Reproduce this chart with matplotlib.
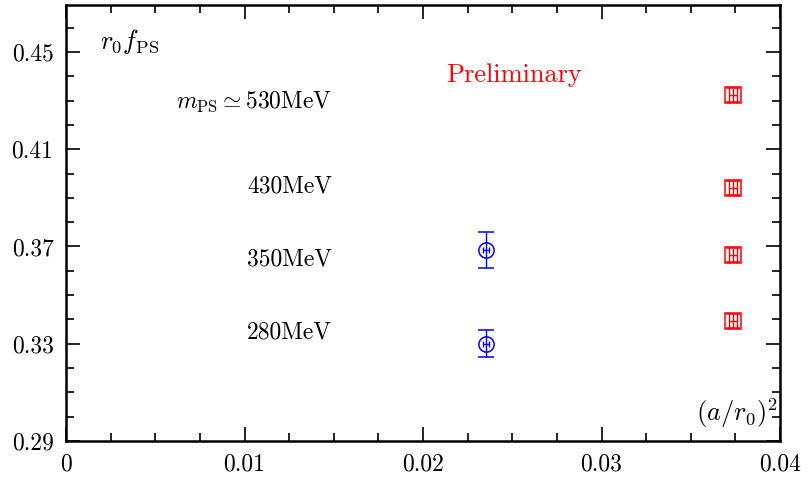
import matplotlib
matplotlib.use("Agg")
import matplotlib.pyplot as plt
from matplotlib.ticker import MultipleLocator, FixedLocator

plt.rcParams["font.family"] = "cmr10"
plt.rcParams["mathtext.fontset"] = "cm"
plt.rcParams["axes.formatter.use_mathtext"] = True

# data
blue_x = [0.02353, 0.02353]
blue_y = [0.3686, 0.3300]
blue_yerr = [0.0074, 0.0055]
blue_xerr = [0.00018, 0.00018]

red_x = [0.03737, 0.03737, 0.03737, 0.03737]
red_y = [0.4323, 0.3941, 0.3665, 0.3394]
red_yerr = [0.0028, 0.0028, 0.0028, 0.0028]
red_xerr = [0.00023, 0.00023, 0.00023, 0.00023]

mass_labels = [r"$m_{\rm PS}\simeq$530MeV", "430MeV", "350MeV", "280MeV"]
mass_label_y = [0.4294, 0.3945, 0.3645, 0.3345]

x_ticks = [0, 0.01, 0.02, 0.03, 0.04]
x_tick_labels = ["0", "0.01", "0.02", "0.03", "0.04"]
y_ticks = [0.29, 0.33, 0.37, 0.41, 0.45]
y_tick_labels = ["0.29", "0.33", "0.37", "0.41", "0.45"]

fig = plt.figure(figsize=(8.1, 4.84), dpi=100)
ax = fig.add_axes([0.0815, 0.0888, 0.8815, 0.9009])

ax.errorbar(blue_x, blue_y, yerr=blue_yerr, fmt="o", color="blue",
            mfc="none", mec="blue", ms=11, mew=1.1, elinewidth=1.0,
            capsize=6, capthick=1.1)
ax.errorbar(blue_x, blue_y, xerr=blue_xerr, fmt="none", ecolor="blue",
            elinewidth=1.0, capsize=2, capthick=1.0)

ax.errorbar(red_x, red_y, yerr=red_yerr, fmt="s", color="red",
            mfc="none", mec="red", ms=11, mew=1.1, elinewidth=1.0,
            capsize=5, capthick=1.0)
ax.errorbar(red_x, red_y, xerr=red_xerr, fmt="none", ecolor="red",
            elinewidth=1.0, capsize=5.5, capthick=1.0)

ax.set_xlim(0, 0.04)
ax.set_ylim(0.29, 0.4693)

ax.xaxis.set_major_locator(FixedLocator(x_ticks))
ax.set_xticklabels(x_tick_labels)
ax.xaxis.set_minor_locator(MultipleLocator(0.0025))
ax.yaxis.set_major_locator(FixedLocator(y_ticks))
ax.set_yticklabels(y_tick_labels)
ax.yaxis.set_minor_locator(MultipleLocator(0.01))

ax.tick_params(which="both", direction="in", top=True, right=True,
               labelsize=17, width=1.2)
ax.tick_params(axis="x", pad=9)
ax.tick_params(axis="y", pad=9)
ax.tick_params(which="major", length=10)
ax.tick_params(which="minor", length=5.5)
for s in ax.spines.values():
    s.set_linewidth(1.8)

for lab, yy in zip(mass_labels, mass_label_y):
    ax.text(0.0149, yy, lab, ha="right", va="center", fontsize=17)

ax.text(0.0019, 0.4541, r"$r_0 f_{\rm PS}$", ha="left", va="center", fontsize=19)
ax.text(0.0251, 0.4405, "Preliminary", color="red", ha="center", va="center",
        fontsize=19)
ax.text(0.0399, 0.3016, r"$(a/r_0)^2$", ha="right", va="center", fontsize=19)

fig.savefig("out.png", dpi=100)
